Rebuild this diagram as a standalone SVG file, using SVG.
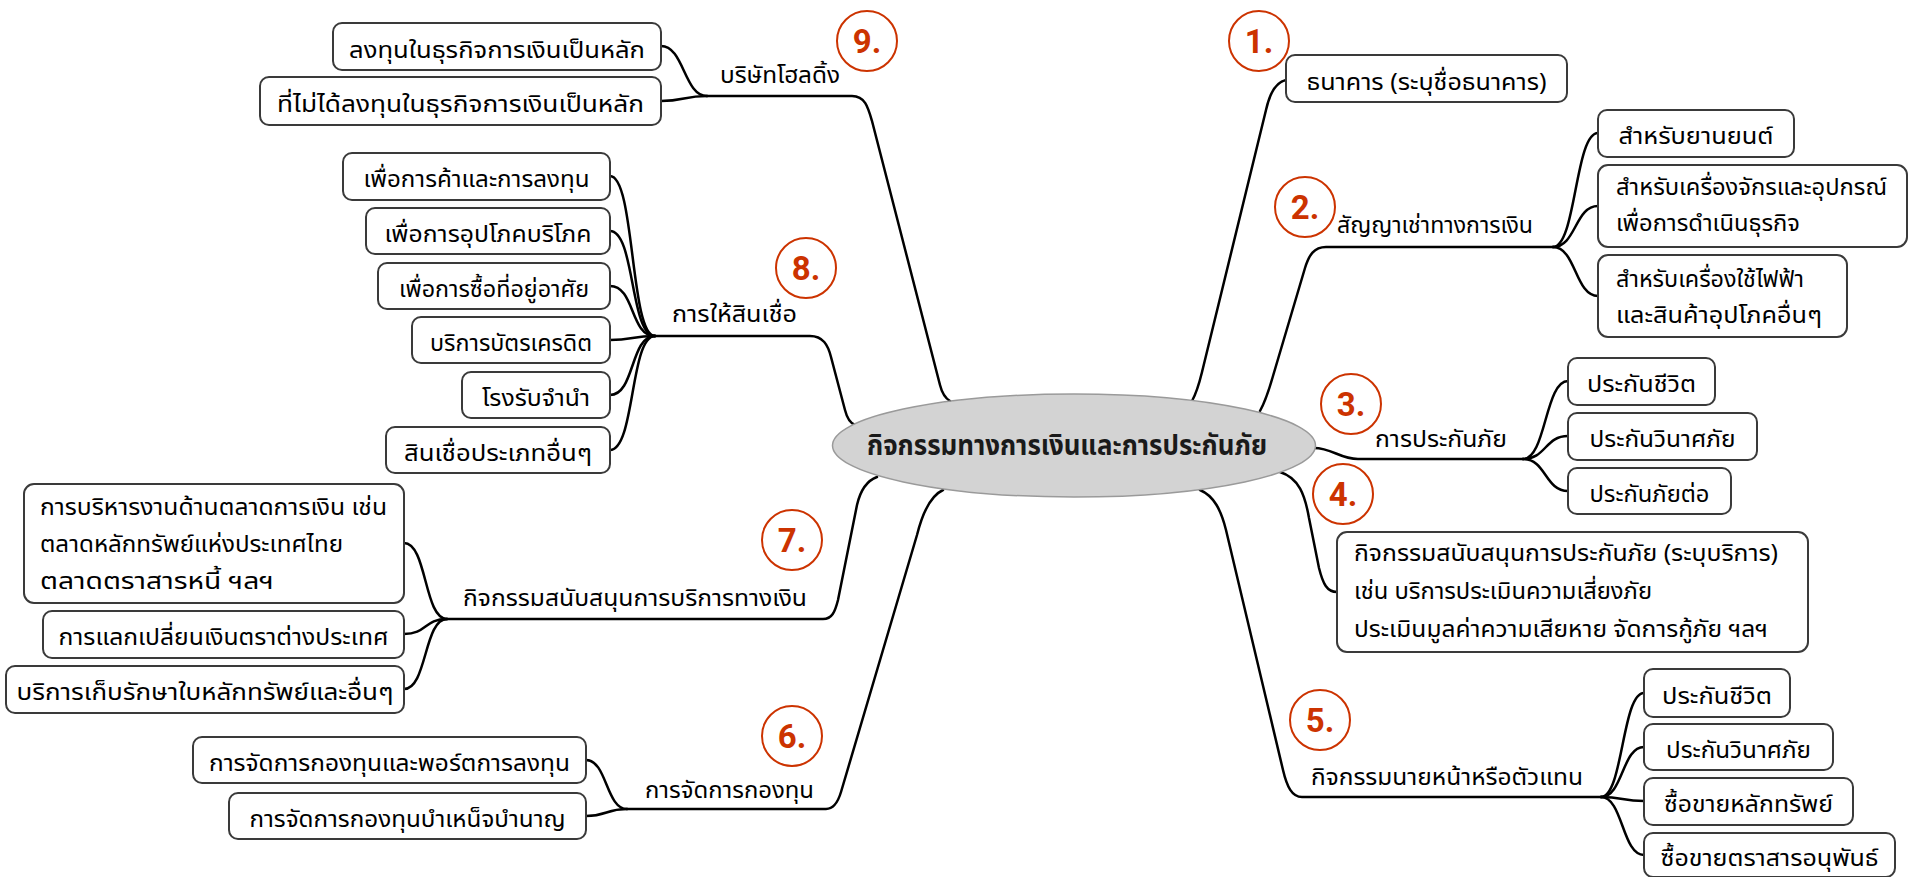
<svg xmlns="http://www.w3.org/2000/svg" width="1909" height="877" viewBox="0 0 1909 877">
<style>
.bg{fill:#fff}
.box{fill:#fff;stroke:#3a3a3a;stroke-width:2}
.t{font-family:"Noto Sans Thai","Noto Sans Thai UI","Garuda","Loma","Norasi","Noto Sans","DejaVu Sans",sans-serif;font-size:23px;fill:#000}
.m{text-anchor:middle}
.ctr{font-family:"Noto Sans Thai","Noto Sans Thai UI","Garuda","Loma","Noto Sans",sans-serif;font-size:29px;font-weight:bold;fill:#1a1a1a;text-anchor:middle}
.num{font-family:Roboto,"Open Sans","Liberation Sans",sans-serif;font-weight:bold;font-size:33px;fill:#cc3300;text-anchor:middle}
.circ{fill:#fff;stroke:#cc3300;stroke-width:2}
.conn{fill:none;stroke:#000;stroke-width:2.5;stroke-linecap:round;stroke-linejoin:round}
</style>
<rect class="bg" x="0" y="0" width="1909" height="877"/>

<g id="connectors">
  <!-- group 9 -->
  <path class="conn" d="M707,96 L852,96 C865,96 868,107 872,121 L940,385 C942,393 945,398 950,401"/>
  <path class="conn" d="M707,96 C684,96 684,46 661,46"/>
  <path class="conn" d="M707,96 C684,96 684,101 661,101"/>
  <!-- group 8 -->
  <path class="conn" d="M655,336 L810,336 C823,336 828,345 831,357 L845,410 C847,418 850,423 855,425"/>
  <path class="conn" d="M655,336 C630,336 635,176 610,176"/>
  <path class="conn" d="M655,336 C630,336 635,231 610,231"/>
  <path class="conn" d="M655,336 C630,336 635,286 610,286"/>
  <path class="conn" d="M655,336 C632,336 633,340 610,340"/>
  <path class="conn" d="M655,336 C630,336 635,395 610,395"/>
  <path class="conn" d="M655,336 C630,336 635,450 610,450"/>
  <!-- group 7 -->
  <path class="conn" d="M447,619 L823,619 C832,619 835,612 838,600 L857,505 C860,492 866,481 877,477"/>
  <path class="conn" d="M447,619 C424,619 427,543 404,543"/>
  <path class="conn" d="M447,619 C424,619 427,634 404,634"/>
  <path class="conn" d="M447,619 C424,619 427,689 404,689"/>
  <!-- group 6 -->
  <path class="conn" d="M627,809 L826,809 C834,809 838,802 841,792 L917,535 C922,515 930,496 943,490"/>
  <path class="conn" d="M627,809 C606,809 607,760 586,760"/>
  <path class="conn" d="M627,809 C606,809 607,816 586,816"/>
  <!-- group 1 -->
  <path class="conn" d="M1192,401 C1198,390 1200,380 1203,368 L1266,110 C1270,92 1276,82 1286,80"/>
  <!-- group 2 -->
  <path class="conn" d="M1260,411 C1266,400 1269,390 1273,376 L1305,268 C1309,255 1314,247 1326,247 L1553,247"/>
  <path class="conn" d="M1553,247 C1576,247 1575,133 1598,133"/>
  <path class="conn" d="M1553,247 C1576,247 1575,206 1598,206"/>
  <path class="conn" d="M1553,247 C1576,247 1575,296 1598,296"/>
  <!-- group 3 -->
  <path class="conn" d="M1314,448 C1332,448 1340,459 1358,459 L1523,459"/>
  <path class="conn" d="M1523,459 C1546,459 1545,381 1568,381"/>
  <path class="conn" d="M1523,459 C1546,459 1545,436 1568,436"/>
  <path class="conn" d="M1523,459 C1546,459 1545,491 1568,491"/>
  <!-- group 4 -->
  <path class="conn" d="M1280,472 C1299,478 1305,495 1309,518 L1319,568 C1323,584 1327,592 1337,592"/>
  <!-- group 5 -->
  <path class="conn" d="M1200,490 C1214,496 1221,510 1226,530 L1283,770 C1287,787 1292,797 1302,797 L1601,797"/>
  <path class="conn" d="M1601,797 C1623,797 1622,693 1644,693"/>
  <path class="conn" d="M1601,797 C1623,797 1622,747 1644,747"/>
  <path class="conn" d="M1601,797 C1623,797 1622,801 1644,801"/>
  <path class="conn" d="M1601,797 C1623,797 1622,855 1644,855"/>
</g>

<g id="center">
  <ellipse cx="1074" cy="445.5" rx="241.5" ry="51.5" fill="#d3d3d3" stroke="#9a9a9a" stroke-width="1.5"/>
  <text class="ctr" x="1067" y="455" textLength="400" lengthAdjust="spacingAndGlyphs">กิจกรรมทางการเงินและการประกันภัย</text>
</g>

<!-- group 9 -->
<g id="g9-label">
  <text class="t" x="720" y="83" textLength="120" lengthAdjust="spacingAndGlyphs">บริษัทโฮลดิ้ง</text>
  <circle class="circ" cx="867" cy="41" r="30"/>
  <text class="num" x="867" y="53">9.</text>
</g>
<g id="g9-a">
  <rect class="box" x="333" y="23" width="328" height="47" rx="9"/>
  <text class="t m" x="497" y="58" textLength="296" lengthAdjust="spacingAndGlyphs">ลงทุนในธุรกิจการเงินเป็นหลัก</text>
</g>
<g id="g9-b">
  <rect class="box" x="260" y="77" width="401" height="48" rx="9"/>
  <text class="t m" x="460.5" y="112" textLength="367" lengthAdjust="spacingAndGlyphs">ที่ไม่ได้ลงทุนในธุรกิจการเงินเป็นหลัก</text>
</g>

<!-- group 8 -->
<g id="g8-label">
  <text class="t" x="672" y="322" textLength="125" lengthAdjust="spacingAndGlyphs">การให้สินเชื่อ</text>
  <circle class="circ" cx="806" cy="268" r="30"/>
  <text class="num" x="806" y="280">8.</text>
</g>
<g id="g8-a">
  <rect class="box" x="343" y="153" width="267" height="47" rx="9"/>
  <text class="t m" x="476.5" y="187" textLength="226" lengthAdjust="spacingAndGlyphs">เพื่อการค้าและการลงทุน</text>
</g>
<g id="g8-b">
  <rect class="box" x="366" y="208" width="244" height="46" rx="9"/>
  <text class="t m" x="488" y="242" textLength="207" lengthAdjust="spacingAndGlyphs">เพื่อการอุปโภคบริโภค</text>
</g>
<g id="g8-c">
  <rect class="box" x="378" y="263" width="232" height="46" rx="9"/>
  <text class="t m" x="494" y="297" textLength="190" lengthAdjust="spacingAndGlyphs">เพื่อการซื้อที่อยู่อาศัย</text>
</g>
<g id="g8-d">
  <rect class="box" x="412" y="317" width="198" height="46" rx="9"/>
  <text class="t m" x="511" y="351" textLength="162" lengthAdjust="spacingAndGlyphs">บริการบัตรเครดิต</text>
</g>
<g id="g8-e">
  <rect class="box" x="462" y="372" width="148" height="46" rx="9"/>
  <text class="t m" x="536" y="406" textLength="108" lengthAdjust="spacingAndGlyphs">โรงรับจำนำ</text>
</g>
<g id="g8-f">
  <rect class="box" x="386" y="427" width="224" height="46" rx="9"/>
  <text class="t m" x="498" y="461" textLength="188" lengthAdjust="spacingAndGlyphs">สินเชื่อประเภทอื่นๆ</text>
</g>

<!-- group 7 -->
<g id="g7-label">
  <text class="t" x="463" y="606" textLength="344" lengthAdjust="spacingAndGlyphs">กิจกรรมสนับสนุนการบริการทางเงิน</text>
  <circle class="circ" cx="792" cy="540" r="30"/>
  <text class="num" x="792" y="552">7.</text>
</g>
<g id="g7-a">
  <rect class="box" x="24" y="484" width="380" height="119" rx="10"/>
  <text class="t" x="40" y="515" textLength="347" lengthAdjust="spacingAndGlyphs">การบริหารงานด้านตลาดการเงิน เช่น</text>
  <text class="t" x="40" y="552" textLength="303" lengthAdjust="spacingAndGlyphs">ตลาดหลักทรัพย์แห่งประเทศไทย</text>
  <text class="t" x="40" y="589" textLength="234" lengthAdjust="spacingAndGlyphs">ตลาดตราสารหนี้ ฯลฯ</text>
</g>
<g id="g7-b">
  <rect class="box" x="43" y="611" width="361" height="47" rx="9"/>
  <text class="t m" x="223.5" y="645" textLength="330" lengthAdjust="spacingAndGlyphs">การแลกเปลี่ยนเงินตราต่างประเทศ</text>
</g>
<g id="g7-c">
  <rect class="box" x="6" y="666" width="398" height="47" rx="9"/>
  <text class="t m" x="205" y="700" textLength="377" lengthAdjust="spacingAndGlyphs">บริการเก็บรักษาใบหลักทรัพย์และอื่นๆ</text>
</g>

<!-- group 6 -->
<g id="g6-label">
  <text class="t" x="645" y="798" textLength="169" lengthAdjust="spacingAndGlyphs">การจัดการกองทุน</text>
  <circle class="circ" cx="792" cy="736" r="30"/>
  <text class="num" x="792" y="748">6.</text>
</g>
<g id="g6-a">
  <rect class="box" x="193" y="737" width="393" height="46" rx="9"/>
  <text class="t m" x="389.5" y="771" textLength="361" lengthAdjust="spacingAndGlyphs">การจัดการกองทุนและพอร์ตการลงทุน</text>
</g>
<g id="g6-b">
  <rect class="box" x="229" y="793" width="357" height="46" rx="9"/>
  <text class="t m" x="407.5" y="827" textLength="316" lengthAdjust="spacingAndGlyphs">การจัดการกองทุนบำเหน็จบำนาญ</text>
</g>

<!-- group 1 -->
<g id="g1-label">
  <circle class="circ" cx="1259" cy="41" r="30"/>
  <text class="num" x="1259" y="53">1.</text>
</g>
<g id="g1-a">
  <rect class="box" x="1286" y="55" width="281" height="47" rx="9"/>
  <text class="t m" x="1426.5" y="90" textLength="240" lengthAdjust="spacingAndGlyphs">ธนาคาร (ระบุชื่อธนาคาร)</text>
</g>

<!-- group 2 -->
<g id="g2-label">
  <circle class="circ" cx="1305" cy="207" r="30"/>
  <text class="num" x="1305" y="219">2.</text>
  <text class="t" x="1337" y="233" textLength="196" lengthAdjust="spacingAndGlyphs">สัญญาเช่าทางการเงิน</text>
</g>
<g id="g2-a">
  <rect class="box" x="1598" y="110" width="196" height="47" rx="9"/>
  <text class="t m" x="1696" y="144" textLength="155" lengthAdjust="spacingAndGlyphs">สำหรับยานยนต์</text>
</g>
<g id="g2-b">
  <rect class="box" x="1598" y="165" width="309" height="82" rx="10"/>
  <text class="t" x="1616" y="195" textLength="271" lengthAdjust="spacingAndGlyphs">สำหรับเครื่องจักรและอุปกรณ์</text>
  <text class="t" x="1616" y="231" textLength="184" lengthAdjust="spacingAndGlyphs">เพื่อการดำเนินธุรกิจ</text>
</g>
<g id="g2-c">
  <rect class="box" x="1598" y="255" width="249" height="82" rx="10"/>
  <text class="t" x="1616" y="287" textLength="188" lengthAdjust="spacingAndGlyphs">สำหรับเครื่องใช้ไฟฟ้า</text>
  <text class="t" x="1616" y="323" textLength="206" lengthAdjust="spacingAndGlyphs">และสินค้าอุปโภคอื่นๆ</text>
</g>

<!-- group 3 -->
<g id="g3-label">
  <circle class="circ" cx="1351" cy="404" r="30"/>
  <text class="num" x="1351" y="416">3.</text>
  <text class="t" x="1375" y="447" textLength="132" lengthAdjust="spacingAndGlyphs">การประกันภัย</text>
</g>
<g id="g3-a">
  <rect class="box" x="1568" y="358" width="147" height="47" rx="9"/>
  <text class="t m" x="1641.5" y="392" textLength="109" lengthAdjust="spacingAndGlyphs">ประกันชีวิต</text>
</g>
<g id="g3-b">
  <rect class="box" x="1568" y="413" width="189" height="47" rx="9"/>
  <text class="t m" x="1662.5" y="447" textLength="146" lengthAdjust="spacingAndGlyphs">ประกันวินาศภัย</text>
</g>
<g id="g3-c">
  <rect class="box" x="1568" y="468" width="163" height="46" rx="9"/>
  <text class="t m" x="1649.5" y="502" textLength="120" lengthAdjust="spacingAndGlyphs">ประกันภัยต่อ</text>
</g>

<!-- group 4 -->
<g id="g4-label">
  <circle class="circ" cx="1343" cy="494" r="30"/>
  <text class="num" x="1343" y="506">4.</text>
</g>
<g id="g4-a">
  <rect class="box" x="1337" y="532" width="471" height="120" rx="10"/>
  <text class="t" x="1354" y="561" textLength="424" lengthAdjust="spacingAndGlyphs">กิจกรรมสนับสนุนการประกันภัย (ระบุบริการ)</text>
  <text class="t" x="1354" y="599" textLength="298" lengthAdjust="spacingAndGlyphs">เช่น บริการประเมินความเสี่ยงภัย</text>
  <text class="t" x="1354" y="637" textLength="414" lengthAdjust="spacingAndGlyphs">ประเมินมูลค่าความเสียหาย จัดการกู้ภัย ฯลฯ</text>
</g>

<!-- group 5 -->
<g id="g5-label">
  <circle class="circ" cx="1320" cy="720" r="30"/>
  <text class="num" x="1320" y="732">5.</text>
  <text class="t" x="1311" y="785" textLength="272" lengthAdjust="spacingAndGlyphs">กิจกรรมนายหน้าหรือตัวแทน</text>
</g>
<g id="g5-a">
  <rect class="box" x="1644" y="669" width="146" height="48" rx="9"/>
  <text class="t m" x="1717" y="704" textLength="110" lengthAdjust="spacingAndGlyphs">ประกันชีวิต</text>
</g>
<g id="g5-b">
  <rect class="box" x="1644" y="724" width="189" height="46" rx="9"/>
  <text class="t m" x="1738.5" y="758" textLength="145" lengthAdjust="spacingAndGlyphs">ประกันวินาศภัย</text>
</g>
<g id="g5-c">
  <rect class="box" x="1644" y="778" width="209" height="47" rx="9"/>
  <text class="t m" x="1748.5" y="812" textLength="169" lengthAdjust="spacingAndGlyphs">ซื้อขายหลักทรัพย์</text>
</g>
<g id="g5-d">
  <rect class="box" x="1644" y="833" width="251" height="44" rx="9"/>
  <text class="t m" x="1769.5" y="866" textLength="218" lengthAdjust="spacingAndGlyphs">ซื้อขายตราสารอนุพันธ์</text>
</g>
</svg>
